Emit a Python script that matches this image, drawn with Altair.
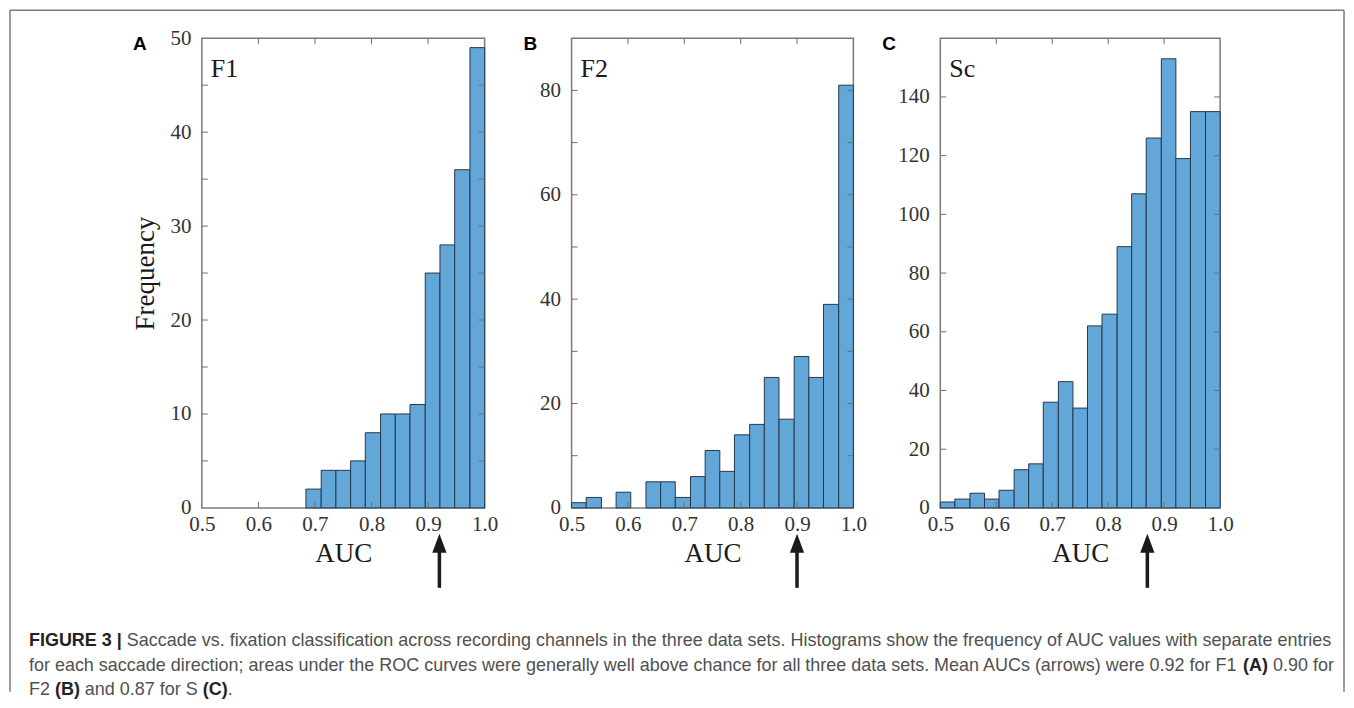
import altair as alt
import pandas as pd

# ---------------- data ----------------
bin_edges = [0.5, 0.526, 0.553, 0.579, 0.605, 0.632, 0.658, 0.684, 0.711, 0.737,
             0.763, 0.789, 0.816, 0.842, 0.868, 0.895, 0.921, 0.947, 0.974, 1.0]
counts_f1 = [0, 0, 0, 0, 0, 0, 0, 2, 4, 4, 5, 8, 10, 10, 11, 25, 28, 36, 49]
counts_f2 = [1, 2, 0, 3, 0, 5, 5, 2, 6, 11, 7, 14, 16, 25, 17, 29, 25, 39, 81]
counts_sc = [2, 3, 5, 3, 6, 13, 15, 36, 43, 34, 62, 66, 89, 107, 126, 153, 119, 135, 135]
mean_auc = [0.92, 0.90, 0.87]
panel_names = ["F1", "F2", "Sc"]
panel_letters = ["A", "B", "C"]
y_max = [50, 90, 160]
y_label_values = [[0, 10, 20, 30, 40, 50],
                  [0, 20, 40, 60, 80],
                  [0, 20, 40, 60, 80, 100, 120, 140]]
y_tick_values = [[5, 10, 15, 20, 25, 30, 35, 40, 45],
                 [10, 20, 30, 40, 50, 60, 70, 80],
                 [20, 40, 60, 80, 100, 120, 140]]
x_label_values = [0.5, 0.6, 0.7, 0.8, 0.9, 1.0]
x_tick_values = [0.6, 0.7, 0.8, 0.9]

caption_lines = [
    [("FIGURE 3 |", True),
     (" Saccade vs. fixation classification across recording channels in the three data sets. "
      "Histograms show the frequency of AUC values with separate entries", False)],
    [("for each saccade direction; areas under the ROC curves were generally well above chance "
      "for all three data sets. Mean AUCs (arrows) were 0.92 for F1 ", False),
     ("(A)", True), (" 0.90 for", False)],
    [("F2 ", False), ("(B)", True), (" and 0.87 for S ", False), ("(C)", True), (".", False)],
]

# ---------------- style ----------------
SERIF = "Liberation Serif"
SANS = "Liberation Sans"
BAR_FILL = "#63a7d8"
BAR_STROKE = "#24384d"
TICK_COLOR = "#6e6e6e"
FRAME_COLOR = "#7a7a7a"
ARROW_PATH = "M0,-1L0.75,1L-0.75,1Z"

widths = [283, 282, 280]
H = 470
letter_dx = [-69, -48, -58]

# Helvetica / Arial advance widths (1/1000 em) for caption layout
REG = {" ": 278, ".": 278, ";": 278, ",": 278, "(": 333, ")": 333, "|": 260,
       "A": 667, "B": 667, "C": 722, "E": 667, "F": 611, "G": 778, "H": 722,
       "I": 278, "M": 833, "O": 778, "R": 722, "S": 667, "U": 722,
       "a": 556, "b": 556, "c": 500, "d": 556, "e": 556, "f": 278, "g": 556,
       "h": 556, "i": 222, "j": 222, "k": 500, "l": 222, "m": 833, "n": 556,
       "o": 556, "p": 556, "q": 556, "r": 333, "s": 500, "t": 278, "u": 556,
       "v": 500, "w": 722, "x": 500, "y": 500, "z": 500}
BOLD = {" ": 278, "|": 280, "(": 333, ")": 333, ".": 278, "A": 722, "B": 722,
        "C": 722, "E": 667, "F": 611, "G": 778, "I": 278, "R": 722, "U": 722}


def text_width(s, bold, fs):
    table = BOLD if bold else REG
    return sum(table.get(ch, 556) for ch in s) * fs / 1000.0


# caption font size from the width of line 1 in the reference
cap_x0 = -173
cap_target = 1305
em1 = sum(text_width(t, b, 1.0) for t, b in caption_lines[0])
CAP_FS = cap_target / em1
cap_y = [603, 628, 652]

dummy = pd.DataFrame({"d": [0]})


def caption_layers():
    layers = []
    for line, yy in zip(caption_lines, cap_y):
        cursor = cap_x0
        for seg, bold in line:
            lead = len(seg) - len(seg.lstrip(" "))
            trail = len(seg) - len(seg.rstrip(" "))
            core = seg.strip(" ")
            cursor += lead * text_width(" ", bold, CAP_FS)
            layers.append(
                alt.Chart(dummy).mark_text(
                    text=core, font=SANS, fontSize=CAP_FS,
                    fontWeight="bold" if bold else "normal",
                    color="#222222" if bold else "#505050",
                    align="left", baseline="middle",
                ).encode(x=alt.value(cursor), y=alt.value(yy))
            )
            cursor += text_width(core, bold, CAP_FS) + trail * text_width(" ", bold, CAP_FS)
    return layers


def frame_layers():
    left, right, top, bottom = -192, 1143, -28, 654
    st = dict(color=FRAME_COLOR, strokeWidth=1.5)
    return [
        alt.Chart(dummy).mark_rule(**st).encode(x=alt.value(left), y=alt.value(top), y2=alt.value(bottom)),
        alt.Chart(dummy).mark_rule(**st).encode(x=alt.value(right), y=alt.value(top), y2=alt.value(bottom)),
        alt.Chart(dummy).mark_rule(**st).encode(x=alt.value(left), x2=alt.value(right), y=alt.value(top)),
    ]


all_counts = [counts_f1, counts_f2, counts_sc]


def panel(i):
    w = widths[i]
    df = pd.DataFrame({"x": bin_edges[:-1], "x2": bin_edges[1:], "y": all_counts[i]})
    df = df[df["y"] > 0]

    xs = alt.Scale(domain=[0.5, 1.0], nice=False, zero=False)
    ys = alt.Scale(domain=[0, y_max[i]], nice=False, zero=True)
    xaxis = alt.Axis(values=x_label_values, format=".1f", grid=False, ticks=False,
                     domain=False, labelFont=SERIF, labelFontSize=21, labelColor="#333333",
                     labelPadding=6, labelFlush=False, labelOverlap=False, labelBound=False,
                     title="AUC", titleFont=SERIF, titleFontSize=27, titleFontWeight="normal",
                     titleColor="#1a1a1a", titlePadding=6)
    yaxis_kw = dict(values=y_label_values[i], format="d", grid=False, ticks=False,
                    domain=False, labelFont=SERIF, labelFontSize=21, labelColor="#333333",
                    labelPadding=11, labelFlush=False, labelOverlap=False)
    if i == 0:
        yaxis = alt.Axis(title="Frequency", titleFont=SERIF, titleFontSize=27,
                         titleFontWeight="normal", titleColor="#1a1a1a", titlePadding=10,
                         **yaxis_kw)
    else:
        yaxis = alt.Axis(title=None, **yaxis_kw)

    X = alt.X("x:Q", scale=xs, axis=xaxis)
    Y = alt.Y("y:Q", scale=ys, axis=yaxis)

    bars = alt.Chart(df).mark_rect(fill=BAR_FILL, stroke=BAR_STROKE, strokeWidth=1).encode(
        x=X, x2="x2:Q", y=Y, y2=alt.datum(0))

    dft_y = pd.DataFrame({"y": y_tick_values[i]})
    dft_x = pd.DataFrame({"x": x_tick_values})
    tk = dict(color=TICK_COLOR, strokeWidth=1)
    ytick_l = alt.Chart(dft_y).mark_rule(**tk).encode(y=Y, x=alt.value(0), x2=alt.value(6))
    ytick_r = alt.Chart(dft_y).mark_rule(**tk).encode(y=Y, x=alt.value(w - 6), x2=alt.value(w))
    xtick_t = alt.Chart(dft_x).mark_rule(**tk).encode(x=X, y=alt.value(0), y2=alt.value(6))
    xtick_b = alt.Chart(dft_x).mark_rule(**tk).encode(x=X, y=alt.value(H - 6), y2=alt.value(H))

    name = alt.Chart(dummy).mark_text(text=panel_names[i], font=SERIF, fontSize=26,
                                      align="left", baseline="alphabetic",
                                      color="#1a1a1a").encode(x=alt.value(9), y=alt.value(39))
    letter = alt.Chart(dummy).mark_text(text=panel_letters[i], font=SANS, fontSize=19,
                                        fontWeight="bold", align="left", baseline="middle",
                                        color="#000000").encode(x=alt.value(letter_dx[i]),
                                                                y=alt.value(6))

    dfm = pd.DataFrame({"x": [mean_auc[i]]})
    shaft = alt.Chart(dfm).mark_rule(color="#1a1a1a", strokeWidth=3.5).encode(
        x=X, y=alt.value(H + 42), y2=alt.value(H + 80))
    head = alt.Chart(dfm).mark_point(shape=ARROW_PATH, filled=True, size=361, opacity=1,
                                     color="#1a1a1a", strokeWidth=0).encode(
        x=X, y=alt.value(H + 35.5))

    layers = [bars, ytick_l, ytick_r, xtick_t, xtick_b, name, letter, shaft, head]
    if i == 0:
        layers += frame_layers() + caption_layers()
    return alt.layer(*layers).properties(width=w, height=H)


chart = alt.hconcat(panel(0), panel(1), panel(2), spacing=87, bounds="flush",
                    padding=0).configure_view(stroke=FRAME_COLOR, strokeWidth=1.5)

chart.save("out.html", embed_options={"renderer": "svg", "actions": False})
